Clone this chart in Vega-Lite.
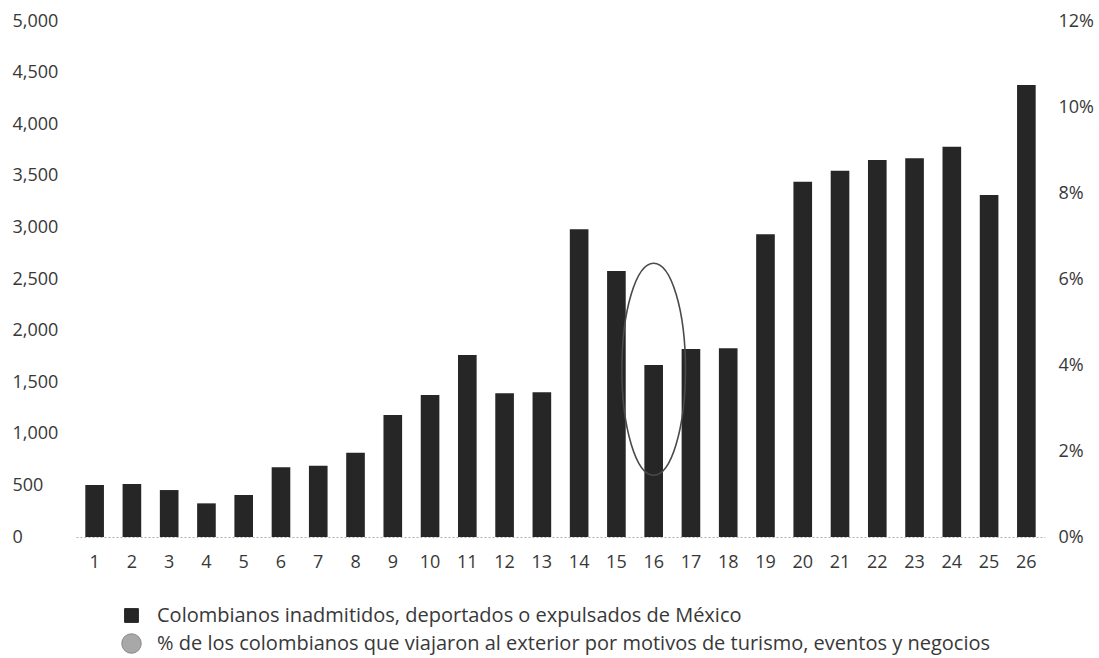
{
  "$schema": "https://vega.github.io/schema/vega-lite/v6.json",
  "width": 969,
  "height": 516,
  "autosize": {"type": "none"},
  "padding": {"left": 76, "top": 21, "right": 54, "bottom": 121},
  "config": {
    "view": {"stroke": null},
    "font": "Open Sans",
    "axis": {"grid": false, "ticks": false, "labelFont": "Open Sans", "labelFontSize": 18, "labelColor": "#383838", "title": null},
    "legend": {"labelFont": "Open Sans", "labelFontSize": 20, "labelColor": "#383838", "labelLimit": 0}
  },
  "datasets": {
    "barras": [
      {"periodo": 1, "personas": 505, "serie": "Colombianos inadmitidos, deportados o expulsados de México"},
      {"periodo": 2, "personas": 513, "serie": "Colombianos inadmitidos, deportados o expulsados de México"},
      {"periodo": 3, "personas": 455, "serie": "Colombianos inadmitidos, deportados o expulsados de México"},
      {"periodo": 4, "personas": 326, "serie": "Colombianos inadmitidos, deportados o expulsados de México"},
      {"periodo": 5, "personas": 407, "serie": "Colombianos inadmitidos, deportados o expulsados de México"},
      {"periodo": 6, "personas": 675, "serie": "Colombianos inadmitidos, deportados o expulsados de México"},
      {"periodo": 7, "personas": 691, "serie": "Colombianos inadmitidos, deportados o expulsados de México"},
      {"periodo": 8, "personas": 817, "serie": "Colombianos inadmitidos, deportados o expulsados de México"},
      {"periodo": 9, "personas": 1182, "serie": "Colombianos inadmitidos, deportados o expulsados de México"},
      {"periodo": 10, "personas": 1376, "serie": "Colombianos inadmitidos, deportados o expulsados de México"},
      {"periodo": 11, "personas": 1764, "serie": "Colombianos inadmitidos, deportados o expulsados de México"},
      {"periodo": 12, "personas": 1392, "serie": "Colombianos inadmitidos, deportados o expulsados de México"},
      {"periodo": 13, "personas": 1402, "serie": "Colombianos inadmitidos, deportados o expulsados de México"},
      {"periodo": 14, "personas": 2981, "serie": "Colombianos inadmitidos, deportados o expulsados de México"},
      {"periodo": 15, "personas": 2578, "serie": "Colombianos inadmitidos, deportados o expulsados de México"},
      {"periodo": 16, "personas": 1667, "serie": "Colombianos inadmitidos, deportados o expulsados de México"},
      {"periodo": 17, "personas": 1822, "serie": "Colombianos inadmitidos, deportados o expulsados de México"},
      {"periodo": 18, "personas": 1828, "serie": "Colombianos inadmitidos, deportados o expulsados de México"},
      {"periodo": 19, "personas": 2933, "serie": "Colombianos inadmitidos, deportados o expulsados de México"},
      {"periodo": 20, "personas": 3443, "serie": "Colombianos inadmitidos, deportados o expulsados de México"},
      {"periodo": 21, "personas": 3550, "serie": "Colombianos inadmitidos, deportados o expulsados de México"},
      {"periodo": 22, "personas": 3653, "serie": "Colombianos inadmitidos, deportados o expulsados de México"},
      {"periodo": 23, "personas": 3669, "serie": "Colombianos inadmitidos, deportados o expulsados de México"},
      {"periodo": 24, "personas": 3782, "serie": "Colombianos inadmitidos, deportados o expulsados de México"},
      {"periodo": 25, "personas": 3314, "serie": "Colombianos inadmitidos, deportados o expulsados de México"},
      {"periodo": 26, "personas": 4380, "serie": "Colombianos inadmitidos, deportados o expulsados de México"}
    ],
    "anotacion": [
      {"periodo": 16, "porcentaje": 0.039}
    ]
  },
  "layer": [
    {
      "data": {"name": "barras"},
      "mark": {"type": "bar", "cornerRadius": 0},
      "encoding": {
        "x": {
          "field": "periodo",
          "type": "ordinal",
          "scale": {"paddingInner": 0.5, "paddingOuter": 0.25},
          "axis": {"labelAngle": 0, "labelPadding": 16, "domain": true, "domainColor": "#b0b0b0", "domainDash": [2, 2], "domainWidth": 1}
        },
        "y": {
          "field": "personas",
          "type": "quantitative",
          "scale": {"domain": [0, 5000], "nice": false},
          "axis": {"orient": "left", "values": [0, 500, 1000, 1500, 2000, 2500, 3000, 3500, 4000, 4500, 5000], "format": ",.0f", "domain": false, "labelAlign": "left", "labelPadding": 64, "labelBaseline": "middle"}
        },
        "color": {
          "field": "serie",
          "type": "nominal",
          "scale": {
            "domain": ["Colombianos inadmitidos, deportados o expulsados de México", "% de los colombianos que viajaron al exterior por motivos de turismo, eventos y negocios"],
            "range": ["#262626", "#a8a8a8"]
          },
          "legend": {
            "title": null,
            "orient": "none",
            "legendX": 45,
            "legendY": 584,
            "rowPadding": 5,
            "symbolSize": 200,
            "symbolOffset": 0,
            "labelOffset": 15,
            "encode": {
              "symbols": {
                "update": {
                  "shape": {"signal": "datum.value === 'Colombianos inadmitidos, deportados o expulsados de México' ? 'square' : 'circle'"},
                  "size": {"signal": "datum.value === 'Colombianos inadmitidos, deportados o expulsados de México' ? 190 : 380"},
                  "stroke": {"signal": "datum.value === 'Colombianos inadmitidos, deportados o expulsados de México' ? '#262626' : '#8a8a8a'"},
                  "strokeWidth": {"value": 1}
                }
              }
            }
          }
        }
      }
    },
    {
      "data": {"name": "anotacion"},
      "mark": {
        "type": "point",
        "shape": "M0,-1A0.3,1 0 1,1 0,1A0.3,1 0 1,1 0,-1Z",
        "size": 44944,
        "filled": false,
        "stroke": "#4a4a4a",
        "strokeWidth": 1.6,
        "opacity": 1
      },
      "encoding": {
        "x": {"field": "periodo", "type": "ordinal"},
        "y": {
          "field": "porcentaje",
          "type": "quantitative",
          "scale": {"domain": [0, 0.12], "nice": false},
          "axis": {"orient": "right", "values": [0, 0.02, 0.04, 0.06, 0.08, 0.1, 0.12], "format": ".0%", "domain": false, "labelPadding": 13, "labelBaseline": "middle"}
        }
      }
    }
  ],
  "resolve": {"scale": {"y": "independent"}}
}
